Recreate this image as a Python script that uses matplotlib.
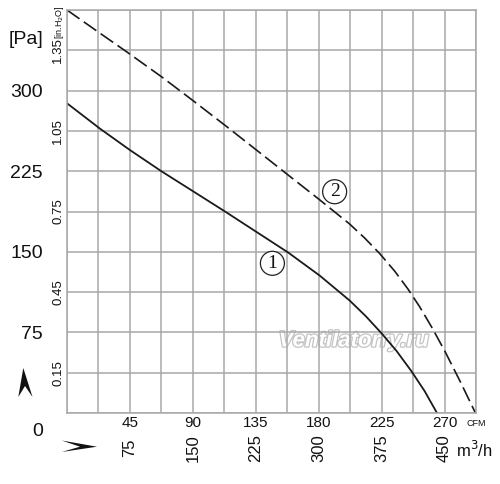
import matplotlib
matplotlib.use("Agg")
import matplotlib.pyplot as plt
import matplotlib.patheffects as pe
from matplotlib.patches import Polygon
from matplotlib.transforms import blended_transform_factory, offset_copy

# ---- data (CFM, Pa) ----
curve1_cfm = [0, 23.6, 45.0, 67.6, 90.2, 112.9, 135.5, 158.1, 180.7, 202.1, 213.6, 224.8,
              235.7, 246.2, 255.7, 264.6]
curve1_pa = [288.2, 264.6, 244.7, 224.9, 206.3, 187.6, 168.5, 149.4, 127.9, 104.7, 90.2,
             74.4, 57.7, 39.1, 20.5, 0]
curve2_cfm = [0, 21.4, 42.9, 67.9, 90.0, 114.1, 135.5, 158.1, 179.5, 202.1, 212.9, 223.6,
              234.3, 243.6, 252.1, 261.4, 270.7, 281.4, 292.1]
curve2_pa = [375, 355.4, 335.9, 312.6, 290.8, 266.6, 244.7, 221.5, 199.6, 175.9, 162.8,
             148.4, 132.1, 115.8, 99.1, 78.6, 56.3, 28.8, 0]

cfm_ticks = [45, 90, 135, 180, 225, 270]
m3h_labels = ["75", "150", "225", "300", "375", "450"]
pa_ticks = [0, 75, 150, 225, 300]
inh2o_ticks = [0.15, 0.45, 0.75, 1.05, 1.35]

sans = ["Liberation Sans", "DejaVu Sans"]
ink = "#111111"

plt.rcParams["lines.scale_dashes"] = False
fig = plt.figure(figsize=(5.0, 4.84), dpi=100)
ax = fig.add_axes([0.134, 0.1467, 0.818, 0.8326])
ax.set_xlim(0, 292.5)
ax.set_ylim(0, 375)
ax.set_xticks([22.5 * i for i in range(14)])
ax.set_yticks([37.5 * i for i in range(11)])
ax.grid(True, color="#a8a8a8", linewidth=1.1)
ax.tick_params(length=0, labelbottom=False, labelleft=False)
for s in ax.spines.values():
    s.set_color("#a8a8a8")
    s.set_linewidth(1.1)

ax.plot(curve1_cfm, curve1_pa, color="#1a1a1a", lw=1.3, solid_joinstyle="round")
ax.plot(curve2_cfm, curve2_pa, color="#1a1a1a", lw=1.2, dashes=(11, 3.8))

# curve markers
for cx, cy, lab in [(146.9, 139.3, "1"), (191.4, 205.9, "2")]:
    ax.text(cx, cy, lab, fontsize=14, family=["Liberation Serif", "DejaVu Serif"],
            ha="center", va="center", color=ink,
            bbox=dict(boxstyle="circle,pad=0.18", fc="white", ec="#222222", lw=0.9))

# watermark
ax.text(205, 67, "Ventilatorry.ru", fontsize=16, style="italic", weight="bold",
        color="white", family=sans, ha="center", va="center", zorder=1,
        path_effects=[pe.withStroke(linewidth=1.8, foreground="#c4c4c4")])

# left Pa labels
ty = blended_transform_factory(ax.transAxes, ax.transData)
for v in pa_ticks:
    dy = -19 if v == 0 else -2
    tr = offset_copy(ty, fig=fig, x=-24 * 0.72, y=dy * 0.72, units="points")
    ax.text(0, v, str(v), transform=tr, ha="right", va="center", fontsize=14,
            family=sans, color=ink)
ax.text(26.5 / 500, 1 - 40 / 484, "[Pa]", transform=fig.transFigure, ha="center",
        va="center", fontsize=14, family=sans, color=ink)

# inH2O labels
for v in inh2o_ticks:
    tr = offset_copy(ty, fig=fig, x=-9 * 0.72, y=0, units="points")
    ax.text(0, v * 250, f"{v:.2f}", transform=tr, rotation=90, ha="center",
            va="center", fontsize=9.5, family=sans, color=ink)
ax.text(59 / 500, 1 - 22 / 484, "[in.H$_2$O]", transform=fig.transFigure, rotation=90,
        ha="center", va="center", fontsize=6.5, family=sans, color=ink)

# bottom labels
tx = blended_transform_factory(ax.transData, ax.transAxes)
for v, lab in zip(cfm_ticks, m3h_labels):
    tr = offset_copy(tx, fig=fig, x=0, y=-10 * 0.72, units="points")
    ax.text(v, 0, str(v), transform=tr, ha="center", va="center", fontsize=11,
            family=sans, color=ink)
    tr2 = offset_copy(tx, fig=fig, x=0, y=-35 * 0.72, units="points")
    ax.text(v, 0, lab, transform=tr2, rotation=90, ha="center", va="center",
            fontsize=12, family=sans, color=ink)
ax.text(476 / 500, 1 - 423 / 484, "CFM", transform=fig.transFigure, ha="center",
        va="center", fontsize=6.5, family=sans, color=ink)
ax.text(474 / 500, 1 - 450 / 484, "m$^3$/h", transform=fig.transFigure, ha="center",
        va="center", fontsize=12, family=sans, color=ink)

# direction arrowheads (decoration)
def fig_pt(x, y):
    return (x / 500, 1 - y / 484)

up = Polygon([fig_pt(23.3, 368), fig_pt(32.5, 397), fig_pt(25, 386), fig_pt(18.3, 397)],
             closed=True, transform=fig.transFigure, fc=ink, ec="none")
right = Polygon([fig_pt(97, 446.7), fig_pt(61.7, 440.5), fig_pt(80, 446.7), fig_pt(61.7, 452)],
                closed=True, transform=fig.transFigure, fc=ink, ec="none")
fig.patches.extend([up, right])

fig.savefig("out.png", dpi=100, facecolor="white")
